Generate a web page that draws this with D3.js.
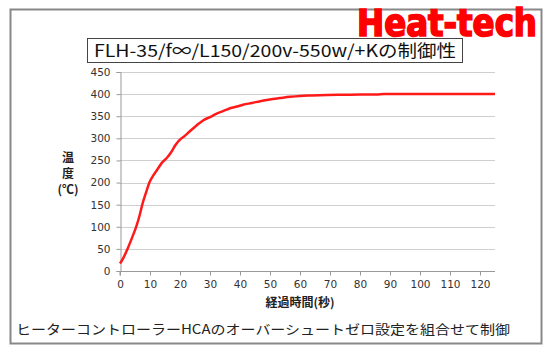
<!DOCTYPE html>
<html>
<head>
<meta charset="utf-8">
<script src="https://cdn.jsdelivr.net/npm/d3@7"></script>
<style>
  body { margin: 0; background: #fff; }
  svg { display: block; }
</style>
</head>
<body>
<div id="app"></div>
<script>
const times = [0, 1, 2.5, 4, 5.5, 6.5, 7.5, 8.7, 9.8, 11, 12.5, 14, 15.5, 17, 18.5, 20, 21.5, 23.3, 25.5, 27.8, 30, 32.2, 34.5, 36.7, 39, 41, 44, 46.7, 50, 53.3, 56.7, 60, 64, 69, 75, 80, 85.6, 88, 95, 105, 115, 125];
const temps = [17, 28, 50, 75, 102, 125, 152, 178, 200, 215, 230, 245, 255, 268, 285, 297, 305, 316, 329, 341, 348, 356, 362, 368, 372, 376, 380, 384, 388, 391, 394, 396, 397, 398, 398.5, 399, 399, 400, 400, 400, 400, 400];
const xTicks = [0, 10, 20, 30, 40, 50, 60, 70, 80, 90, 100, 110, 120];
const yTicks = [0, 50, 100, 150, 200, 250, 300, 350, 400, 450];

const W = 550, H = 351;
const svg = d3.select('#app').append('svg')
  .attr('width', W)
  .attr('height', H);

// outer frame
svg.append('rect')
  .attr('x', 10.5).attr('y', 9.5)
  .attr('width', 531).attr('height', 334)
  .attr('fill', '#fff')
  .attr('stroke', '#888')
  .attr('stroke-width', 2);

// logo
svg.append('text')
  .attr('x', 537).attr('y', 36)
  .attr('text-anchor', 'end')
  .attr('font-family', '"DejaVu Sans Condensed", "DejaVu Sans", sans-serif')
  .attr('font-weight', 'bold')
  .attr('font-size', 37)
  .attr('fill', '#ff0000')
  .attr('stroke', '#ff0000')
  .attr('stroke-width', 1.6)
  .attr('textLength', 180)
  .attr('lengthAdjust', 'spacingAndGlyphs')
  .text('Heat-tech');

// title box
svg.append('rect')
  .attr('x', 87.5).attr('y', 38.5)
  .attr('width', 375).attr('height', 24)
  .attr('fill', '#fff')
  .attr('stroke', '#444')
  .attr('stroke-width', 1);

svg.append('text')
  .attr('x', 275).attr('y', 57)
  .attr('text-anchor', 'middle')
  .attr('font-family', '"Noto Sans CJK JP", sans-serif')
  .attr('font-size', 17)
  .attr('fill', '#111')
  .attr('textLength', 362)
  .attr('lengthAdjust', 'spacingAndGlyphs')
  .text('FLH-35/f∞/L150/200v-550w/+Kの制御性');

const x = d3.scaleLinear().domain([0, 125]).range([120, 495]);
const y = d3.scaleLinear().domain([0, 450]).range([271, 72]);

// grid
svg.append('g')
  .selectAll('line')
  .data(yTicks.filter(d => d > 0))
  .enter()
  .append('line')
  .attr('x1', x(0)).attr('x2', x(125))
  .attr('y1', d => Math.round(y(d)) + 0.5)
  .attr('y2', d => Math.round(y(d)) + 0.5)
  .attr('stroke', '#cfcfcf')
  .attr('stroke-width', 1);

// axes
const yAxis = svg.append('g')
  .attr('transform', `translate(${x(0) + 0.5},0)`)
  .call(d3.axisLeft(y).tickValues(yTicks).tickSize(4).tickPadding(6));

const xAxis = svg.append('g')
  .attr('transform', `translate(0,${Math.round(y(0)) + 0.5})`)
  .call(d3.axisBottom(x).tickValues(xTicks).tickSize(4).tickPadding(5));

[yAxis, xAxis].forEach(a => {
  a.select('.domain').attr('stroke', '#999');
  a.selectAll('.tick line').attr('stroke', '#999');
  a.selectAll('.tick text')
    .attr('fill', '#333')
    .attr('font-family', '"DejaVu Sans", sans-serif')
    .attr('font-size', 10.5);
});
xAxis.select('.domain').attr('d', `M${x(0)},4V0H${x(125)}`);

// curve
svg.append('path')
  .datum(times.map((t, i) => [t, temps[i]]))
  .attr('fill', 'none')
  .attr('stroke', '#ff1a1a')
  .attr('stroke-width', 2.5)
  .attr('stroke-linejoin', 'round')
  .attr('d', d3.line().x(d => x(d[0])).y(d => y(d[1])).curve(d3.curveMonotoneX));

// y label
const yl = svg.append('text')
  .attr('font-family', '"Noto Sans CJK JP", sans-serif')
  .attr('font-weight', 'bold')
  .attr('font-size', 12)
  .attr('fill', '#222')
  .attr('text-anchor', 'middle');
[['温', 162], ['度', 178], ['(℃)', 194]].forEach(([t, yy]) => {
  yl.append('tspan').attr('x', 68).attr('y', yy).text(t);
});

// x label
svg.append('text')
  .attr('x', 300).attr('y', 307)
  .attr('text-anchor', 'middle')
  .attr('font-family', '"Noto Sans CJK JP", sans-serif')
  .attr('font-weight', 'bold')
  .attr('font-size', 12)
  .attr('fill', '#222')
  .text('経過時間(秒)');

// note
svg.append('text')
  .attr('x', 16).attr('y', 334)
  .attr('font-family', '"Noto Sans CJK JP", sans-serif')
  .attr('font-size', 13)
  .attr('fill', '#222')
  .attr('textLength', 494)
  .attr('lengthAdjust', 'spacingAndGlyphs')
  .text('ヒーターコントローラーHCAのオーバーシュートゼロ設定を組合せて制御');
</script>
</body>
</html>
